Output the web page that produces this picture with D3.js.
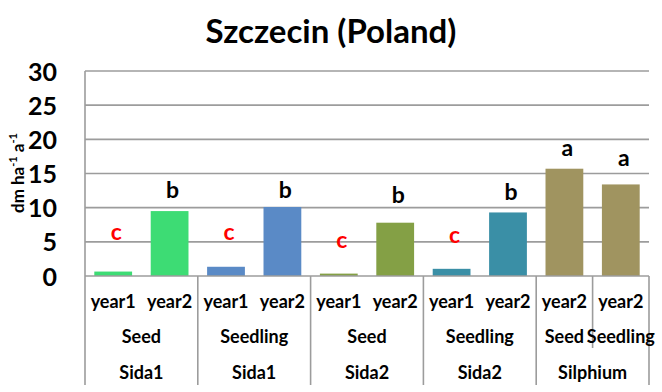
<!DOCTYPE html>
<html>
<head>
<meta charset="utf-8">
<script src="https://cdn.jsdelivr.net/npm/d3@7"></script>
<style>
  html, body { margin: 0; padding: 0; background: #fff; }
  svg { display: block; font-family: Lato, "Open Sans", sans-serif; }
</style>
</head>
<body>
<svg id="chart" width="662" height="392"></svg>
<script>
// ---- data ----
const title = "Szczecin (Poland)";
const years = ["year1","year2","year1","year2","year1","year2","year1","year2","year2","year2"];
const values = [0.65, 9.5, 1.35, 10.1, 0.35, 7.8, 1.05, 9.3, 15.7, 13.4];
const letters = ["c","b","c","b","c","b","c","b","a","a"];
const letterAt = [6.4, 12.6, 6.4, 12.6, 5.3, 11.9, 6.0, 12.3, 18.7, 17.3];
const methodGroups = ["Seed","Seedling","Seed","Seedling","Seed","Seedling"];
const methodSpans = [2, 2, 2, 2, 1, 1];
const cropGroups = ["Sida1","Sida1","Sida2","Sida2","Silphium"];
const cropSpans = [2, 2, 2, 2, 2];
const yTicks = [0, 5, 10, 15, 20, 25, 30];
const barColors = ["#3ddc74","#3ddc74","#5a8ac6","#5a8ac6","#84a045","#84a045","#3a8fa6","#3a8fa6","#a09460","#a09460"];

// ---- layout ----
const svg = d3.select("#chart");
const L = 85, R = 649, T = 71, B = 276, bottom = 385;
const row1 = 302, row2 = 337, row3 = 373, row2Bottom = 348;
const gridColor = "#9c9c9c";
const catSize = 18;

const idx = d3.range(values.length);
const x = d3.scaleBand().domain(idx).range([L, R]).paddingInner(0.33).paddingOuter(0.165);
const y = d3.scaleLinear().domain([0, 30]).range([B, T]);

// title
svg.append("text").attr("x", 331).attr("y", 43).attr("text-anchor", "middle")
  .attr("font-size", 33).attr("font-weight", 700).attr("fill", "#000").text(title);

// gridlines
svg.append("g").selectAll("line").data(yTicks.filter(d => d > 0)).join("line")
  .attr("x1", L).attr("x2", R).attr("y1", d => y(d)).attr("y2", d => y(d))
  .attr("stroke", gridColor).attr("stroke-width", 1.6);

// y axis
const yAxis = d3.axisLeft(y).tickValues(yTicks).tickSize(0).tickPadding(0);
const gy = svg.append("g").attr("transform", `translate(${L - 28},0)`).call(yAxis);
gy.select(".domain").remove();
gy.selectAll("text").attr("font-size", 25).attr("font-weight", 700).attr("fill", "#000")
  .attr("font-family", "Lato, 'Open Sans', sans-serif").attr("dy", "0.36em");

// y axis title
const yt = svg.append("text").attr("transform", "translate(24,173) rotate(-90)")
  .attr("text-anchor", "middle").attr("font-size", 17).attr("font-weight", 700).attr("fill", "#000");
yt.append("tspan").text("dm ha");
yt.append("tspan").attr("font-size", 11).attr("dy", -7).text("-1");
yt.append("tspan").attr("dy", 7).text(" a");
yt.append("tspan").attr("font-size", 11).attr("dy", -7).text("-1");

// bars
svg.append("g").selectAll("rect").data(idx).join("rect")
  .attr("x", i => x(i)).attr("width", x.bandwidth())
  .attr("y", i => y(values[i])).attr("height", i => y(0) - y(values[i]))
  .attr("fill", i => barColors[i]);

// significance letters
svg.append("g").selectAll("text").data(idx).join("text")
  .attr("x", i => x(i) + x.bandwidth() / 2 + 3).attr("y", i => y(letterAt[i]))
  .attr("dy", "0.35em").attr("text-anchor", "middle")
  .attr("font-size", 23).attr("font-weight", 700)
  .attr("fill", i => letters[i] === "c" ? "#ff0000" : "#000")
  .text(i => letters[i]);

// axes lines
const step = x.step();
const ax = svg.append("g").attr("stroke", gridColor).attr("stroke-width", 1.6);
ax.append("line").attr("x1", L).attr("x2", R).attr("y1", B).attr("y2", B);
ax.append("line").attr("x1", L).attr("x2", L).attr("y1", T).attr("y2", bottom);

// category row 1
svg.append("g").selectAll("text").data(idx).join("text")
  .attr("x", i => x(i) + x.bandwidth() / 2).attr("y", row1).attr("dy", "0.35em")
  .attr("text-anchor", "middle").attr("font-size", catSize).attr("font-weight", 700).text(i => years[i]);

// method & crop groups
function spansToRanges(spans) {
  let s = 0; return spans.map(n => { const r = [s, s + n]; s += n; return r; });
}
const mRanges = spansToRanges(methodSpans);
const cRanges = spansToRanges(cropSpans);
const cropEnds = new Set(cRanges.map(r => r[1]));

svg.append("g").selectAll("text").data(mRanges).join("text")
  .attr("x", r => L + step * (r[0] + r[1]) / 2).attr("y", row2).attr("dy", "0.35em")
  .attr("text-anchor", "middle").attr("font-size", catSize).attr("font-weight", 700)
  .text((r, i) => methodGroups[i]);
svg.append("g").selectAll("text").data(cRanges).join("text")
  .attr("x", r => L + step * (r[0] + r[1]) / 2).attr("y", row3).attr("dy", "0.35em")
  .attr("text-anchor", "middle").attr("font-size", catSize).attr("font-weight", 700)
  .text((r, i) => cropGroups[i]);

// dividers
const mEnds = mRanges.map(r => r[1]);
ax.selectAll("line.div").data(mEnds).join("line").attr("class", "div")
  .attr("x1", e => L + step * e).attr("x2", e => L + step * e)
  .attr("y1", B).attr("y2", e => cropEnds.has(e) ? bottom : row2Bottom);
</script>
</body>
</html>
